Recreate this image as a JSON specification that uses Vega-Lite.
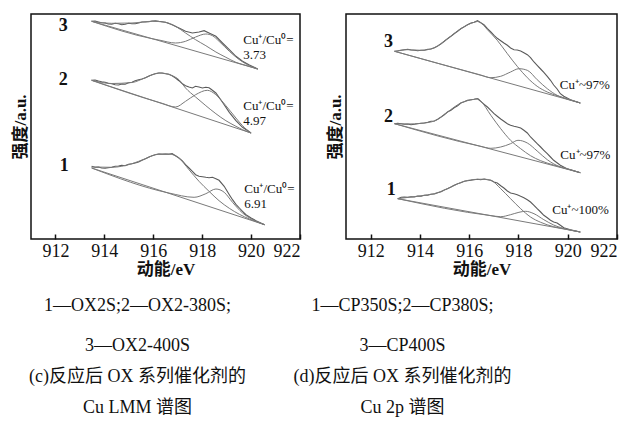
{
"$schema": "https://vega.github.io/schema/vega-lite/v6.json",
"background": "white",
"padding": {"left": 10, "top": 13, "right": 5, "bottom": 0},
"spacing": 46,
"bounds": "flush",
"config": {
  "font": "Liberation Serif, Noto Sans CJK SC",
  "view": {"stroke": "#111", "strokeWidth": 1.5},
  "axisX": {"grid": false, "domain": false, "values": [912, 914, 916, 918, 920, 922], "format": "d", "tickSize": -5, "tickColor": "#111", "tickWidth": 1.5, "labelFont": "Liberation Serif", "labelFontSize": 18, "labelColor": "#111", "labelPadding": 8, "labelAlign": {"condition": {"test": "datum.value == 922", "value": "right"}, "value": "center"}, "titleFont": "Liberation Serif, Noto Sans CJK SC", "titleFontSize": 17, "titleFontWeight": "bold", "titleColor": "#111", "titlePadding": 1},
  "axisY": {"grid": false, "domain": false, "ticks": false, "labels": false, "titleFont": "Liberation Serif, Noto Sans CJK SC", "titleFontSize": 17, "titleFontWeight": "bold", "titleColor": "#111", "titlePadding": 2},
  "title": {"orient": "bottom", "anchor": "middle", "frame": "group", "font": "Liberation Serif, Noto Sans CJK SC", "fontSize": 18, "fontWeight": "normal", "color": "#111", "lineHeight": 40, "offset": 20, "subtitleFont": "Liberation Serif, Noto Sans CJK SC", "subtitleFontSize": 18, "subtitleColor": "#111", "subtitleLineHeight": 31, "subtitlePadding": 13}
},
"datasets": {
"curves": [
{"p":"c","s":3,"k":"bg","x":913.48,"y":217.7},{"p":"c","s":3,"k":"bg","x":920.27,"y":170.0},
{"p":"c","s":3,"k":"raw","x":913.48,"y":217.7},{"p":"c","s":3,"k":"raw","x":913.62,"y":218.0},{"p":"c","s":3,"k":"raw","x":913.76,"y":217.0},{"p":"c","s":3,"k":"raw","x":913.89,"y":216.3},{"p":"c","s":3,"k":"raw","x":914.03,"y":216.0},{"p":"c","s":3,"k":"raw","x":914.16,"y":215.0},{"p":"c","s":3,"k":"raw","x":914.30,"y":214.7},{"p":"c","s":3,"k":"raw","x":914.44,"y":215.7},{"p":"c","s":3,"k":"raw","x":914.58,"y":215.3},{"p":"c","s":3,"k":"raw","x":914.71,"y":214.3},{"p":"c","s":3,"k":"raw","x":914.85,"y":214.7},{"p":"c","s":3,"k":"raw","x":914.99,"y":215.7},{"p":"c","s":3,"k":"raw","x":915.13,"y":215.3},{"p":"c","s":3,"k":"raw","x":915.26,"y":215.3},{"p":"c","s":3,"k":"raw","x":915.40,"y":216.0},{"p":"c","s":3,"k":"raw","x":915.54,"y":217.0},{"p":"c","s":3,"k":"raw","x":915.68,"y":217.0},{"p":"c","s":3,"k":"raw","x":915.82,"y":217.3},{"p":"c","s":3,"k":"raw","x":915.95,"y":218.0},{"p":"c","s":3,"k":"raw","x":916.09,"y":218.3},{"p":"c","s":3,"k":"raw","x":916.23,"y":217.7},{"p":"c","s":3,"k":"raw","x":916.50,"y":216.7},{"p":"c","s":3,"k":"raw","x":916.77,"y":214.3},{"p":"c","s":3,"k":"raw","x":917.05,"y":211.0},{"p":"c","s":3,"k":"raw","x":917.32,"y":207.7},{"p":"c","s":3,"k":"raw","x":917.60,"y":206.0},{"p":"c","s":3,"k":"raw","x":917.87,"y":207.0},{"p":"c","s":3,"k":"raw","x":918.08,"y":208.3},{"p":"c","s":3,"k":"raw","x":918.28,"y":206.0},{"p":"c","s":3,"k":"raw","x":918.56,"y":202.7},{"p":"c","s":3,"k":"raw","x":918.83,"y":196.0},{"p":"c","s":3,"k":"raw","x":919.11,"y":189.3},{"p":"c","s":3,"k":"raw","x":919.38,"y":182.7},{"p":"c","s":3,"k":"raw","x":919.65,"y":177.7},{"p":"c","s":3,"k":"raw","x":919.93,"y":174.0},{"p":"c","s":3,"k":"raw","x":920.27,"y":170.0},
{"p":"c","s":3,"k":"cu0","x":913.48,"y":217.7},{"p":"c","s":3,"k":"cu0","x":914.30,"y":215.7},{"p":"c","s":3,"k":"cu0","x":915.13,"y":216.0},{"p":"c","s":3,"k":"cu0","x":915.95,"y":217.7},{"p":"c","s":3,"k":"cu0","x":916.50,"y":216.7},{"p":"c","s":3,"k":"cu0","x":916.91,"y":212.7},{"p":"c","s":3,"k":"cu0","x":917.32,"y":206.0},{"p":"c","s":3,"k":"cu0","x":917.73,"y":199.3},{"p":"c","s":3,"k":"cu0","x":918.15,"y":193.3},{"p":"c","s":3,"k":"cu0","x":918.56,"y":187.0},{"p":"c","s":3,"k":"cu0","x":918.97,"y":181.7},{"p":"c","s":3,"k":"cu0","x":919.38,"y":176.7},{"p":"c","s":3,"k":"cu0","x":919.79,"y":173.6},{"p":"c","s":3,"k":"cu0","x":920.27,"y":170.0},
{"p":"c","s":3,"k":"cup","x":913.48,"y":217.7},{"p":"c","s":3,"k":"cup","x":915.95,"y":200.3},{"p":"c","s":3,"k":"cup","x":916.23,"y":199.0},{"p":"c","s":3,"k":"cup","x":916.91,"y":196.0},{"p":"c","s":3,"k":"cup","x":917.32,"y":197.7},{"p":"c","s":3,"k":"cup","x":917.73,"y":202.0},{"p":"c","s":3,"k":"cup","x":918.15,"y":205.0},{"p":"c","s":3,"k":"cup","x":918.42,"y":203.3},{"p":"c","s":3,"k":"cup","x":918.69,"y":197.7},{"p":"c","s":3,"k":"cup","x":919.11,"y":187.7},{"p":"c","s":3,"k":"cup","x":919.52,"y":179.3},{"p":"c","s":3,"k":"cup","x":919.93,"y":173.3},{"p":"c","s":3,"k":"cup","x":920.27,"y":170.0},
{"p":"c","s":2,"k":"bg","x":913.48,"y":158.7},{"p":"c","s":2,"k":"bg","x":920.00,"y":106.0},
{"p":"c","s":2,"k":"raw","x":913.48,"y":158.7},{"p":"c","s":2,"k":"raw","x":913.62,"y":159.0},{"p":"c","s":2,"k":"raw","x":913.76,"y":158.0},{"p":"c","s":2,"k":"raw","x":913.89,"y":157.3},{"p":"c","s":2,"k":"raw","x":914.03,"y":156.7},{"p":"c","s":2,"k":"raw","x":914.16,"y":155.7},{"p":"c","s":2,"k":"raw","x":914.30,"y":155.3},{"p":"c","s":2,"k":"raw","x":914.44,"y":154.3},{"p":"c","s":2,"k":"raw","x":914.58,"y":154.0},{"p":"c","s":2,"k":"raw","x":914.71,"y":155.0},{"p":"c","s":2,"k":"raw","x":914.85,"y":154.7},{"p":"c","s":2,"k":"raw","x":914.99,"y":156.3},{"p":"c","s":2,"k":"raw","x":915.13,"y":156.7},{"p":"c","s":2,"k":"raw","x":915.26,"y":158.3},{"p":"c","s":2,"k":"raw","x":915.40,"y":159.3},{"p":"c","s":2,"k":"raw","x":915.54,"y":160.0},{"p":"c","s":2,"k":"raw","x":915.68,"y":161.3},{"p":"c","s":2,"k":"raw","x":915.82,"y":163.0},{"p":"c","s":2,"k":"raw","x":915.95,"y":164.3},{"p":"c","s":2,"k":"raw","x":916.09,"y":165.3},{"p":"c","s":2,"k":"raw","x":916.23,"y":166.0},{"p":"c","s":2,"k":"raw","x":916.36,"y":166.0},{"p":"c","s":2,"k":"raw","x":916.50,"y":165.3},{"p":"c","s":2,"k":"raw","x":916.64,"y":164.7},{"p":"c","s":2,"k":"raw","x":916.77,"y":163.3},{"p":"c","s":2,"k":"raw","x":916.91,"y":161.0},{"p":"c","s":2,"k":"raw","x":917.05,"y":158.3},{"p":"c","s":2,"k":"raw","x":917.19,"y":155.3},{"p":"c","s":2,"k":"raw","x":917.32,"y":153.3},{"p":"c","s":2,"k":"raw","x":917.46,"y":152.0},{"p":"c","s":2,"k":"raw","x":917.60,"y":151.0},{"p":"c","s":2,"k":"raw","x":917.73,"y":152.7},{"p":"c","s":2,"k":"raw","x":917.87,"y":152.0},{"p":"c","s":2,"k":"raw","x":918.01,"y":151.0},{"p":"c","s":2,"k":"raw","x":918.15,"y":151.7},{"p":"c","s":2,"k":"raw","x":918.28,"y":151.3},{"p":"c","s":2,"k":"raw","x":918.35,"y":150.0},{"p":"c","s":2,"k":"raw","x":918.56,"y":146.0},{"p":"c","s":2,"k":"raw","x":918.83,"y":136.7},{"p":"c","s":2,"k":"raw","x":919.11,"y":126.7},{"p":"c","s":2,"k":"raw","x":919.38,"y":118.3},{"p":"c","s":2,"k":"raw","x":919.65,"y":111.7},{"p":"c","s":2,"k":"raw","x":920.00,"y":106.0},
{"p":"c","s":2,"k":"cu0","x":913.48,"y":158.7},{"p":"c","s":2,"k":"cu0","x":914.30,"y":155.5},{"p":"c","s":2,"k":"cu0","x":915.13,"y":156.5},{"p":"c","s":2,"k":"cu0","x":915.68,"y":161.3},{"p":"c","s":2,"k":"cu0","x":916.23,"y":166.0},{"p":"c","s":2,"k":"cu0","x":916.50,"y":165.5},{"p":"c","s":2,"k":"cu0","x":916.77,"y":163.3},{"p":"c","s":2,"k":"cu0","x":917.05,"y":159.3},{"p":"c","s":2,"k":"cu0","x":917.32,"y":151.0},{"p":"c","s":2,"k":"cu0","x":917.73,"y":142.0},{"p":"c","s":2,"k":"cu0","x":918.15,"y":133.3},{"p":"c","s":2,"k":"cu0","x":918.56,"y":125.3},{"p":"c","s":2,"k":"cu0","x":918.97,"y":118.3},{"p":"c","s":2,"k":"cu0","x":919.38,"y":112.7},{"p":"c","s":2,"k":"cu0","x":919.65,"y":109.3},{"p":"c","s":2,"k":"cu0","x":920.00,"y":106.0},
{"p":"c","s":2,"k":"cup","x":913.48,"y":158.7},{"p":"c","s":2,"k":"cup","x":916.36,"y":135.7},{"p":"c","s":2,"k":"cup","x":916.91,"y":132.0},{"p":"c","s":2,"k":"cup","x":917.32,"y":137.7},{"p":"c","s":2,"k":"cup","x":917.73,"y":144.3},{"p":"c","s":2,"k":"cup","x":918.21,"y":148.7},{"p":"c","s":2,"k":"cup","x":918.56,"y":144.3},{"p":"c","s":2,"k":"cup","x":918.97,"y":133.3},{"p":"c","s":2,"k":"cup","x":919.38,"y":121.0},{"p":"c","s":2,"k":"cup","x":919.65,"y":113.3},{"p":"c","s":2,"k":"cup","x":920.00,"y":106.0},
{"p":"c","s":1,"k":"bg","x":913.48,"y":71.0},{"p":"c","s":1,"k":"bg","x":920.55,"y":14.3},
{"p":"c","s":1,"k":"raw","x":913.48,"y":72.7},{"p":"c","s":1,"k":"raw","x":913.62,"y":71.7},{"p":"c","s":1,"k":"raw","x":913.76,"y":72.0},{"p":"c","s":1,"k":"raw","x":913.89,"y":71.0},{"p":"c","s":1,"k":"raw","x":914.03,"y":70.7},{"p":"c","s":1,"k":"raw","x":914.16,"y":71.3},{"p":"c","s":1,"k":"raw","x":914.30,"y":71.7},{"p":"c","s":1,"k":"raw","x":914.44,"y":72.7},{"p":"c","s":1,"k":"raw","x":914.58,"y":73.0},{"p":"c","s":1,"k":"raw","x":914.71,"y":73.7},{"p":"c","s":1,"k":"raw","x":914.85,"y":73.3},{"p":"c","s":1,"k":"raw","x":914.99,"y":74.7},{"p":"c","s":1,"k":"raw","x":915.13,"y":75.3},{"p":"c","s":1,"k":"raw","x":915.26,"y":76.0},{"p":"c","s":1,"k":"raw","x":915.40,"y":77.0},{"p":"c","s":1,"k":"raw","x":915.54,"y":78.7},{"p":"c","s":1,"k":"raw","x":915.68,"y":80.3},{"p":"c","s":1,"k":"raw","x":915.82,"y":82.0},{"p":"c","s":1,"k":"raw","x":915.95,"y":83.3},{"p":"c","s":1,"k":"raw","x":916.09,"y":84.3},{"p":"c","s":1,"k":"raw","x":916.23,"y":85.0},{"p":"c","s":1,"k":"raw","x":916.36,"y":84.7},{"p":"c","s":1,"k":"raw","x":916.50,"y":85.0},{"p":"c","s":1,"k":"raw","x":916.64,"y":84.7},{"p":"c","s":1,"k":"raw","x":916.77,"y":85.3},{"p":"c","s":1,"k":"raw","x":916.91,"y":83.3},{"p":"c","s":1,"k":"raw","x":917.05,"y":81.0},{"p":"c","s":1,"k":"raw","x":917.19,"y":78.0},{"p":"c","s":1,"k":"raw","x":917.32,"y":74.3},{"p":"c","s":1,"k":"raw","x":917.46,"y":71.0},{"p":"c","s":1,"k":"raw","x":917.60,"y":67.7},{"p":"c","s":1,"k":"raw","x":917.73,"y":64.3},{"p":"c","s":1,"k":"raw","x":917.87,"y":62.7},{"p":"c","s":1,"k":"raw","x":918.01,"y":62.3},{"p":"c","s":1,"k":"raw","x":918.15,"y":61.7},{"p":"c","s":1,"k":"raw","x":918.28,"y":61.3},{"p":"c","s":1,"k":"raw","x":918.42,"y":61.7},{"p":"c","s":1,"k":"raw","x":918.56,"y":60.3},{"p":"c","s":1,"k":"raw","x":918.69,"y":58.7},{"p":"c","s":1,"k":"raw","x":918.90,"y":52.7},{"p":"c","s":1,"k":"raw","x":919.11,"y":44.3},{"p":"c","s":1,"k":"raw","x":919.24,"y":39.3},{"p":"c","s":1,"k":"raw","x":919.38,"y":34.7},{"p":"c","s":1,"k":"raw","x":919.52,"y":31.0},{"p":"c","s":1,"k":"raw","x":919.65,"y":27.7},{"p":"c","s":1,"k":"raw","x":919.79,"y":24.3},{"p":"c","s":1,"k":"raw","x":920.00,"y":21.0},{"p":"c","s":1,"k":"raw","x":920.20,"y":18.3},{"p":"c","s":1,"k":"raw","x":920.55,"y":14.3},
{"p":"c","s":1,"k":"cu0","x":913.48,"y":72.0},{"p":"c","s":1,"k":"cu0","x":914.30,"y":71.7},{"p":"c","s":1,"k":"cu0","x":915.13,"y":75.3},{"p":"c","s":1,"k":"cu0","x":915.68,"y":80.3},{"p":"c","s":1,"k":"cu0","x":916.23,"y":85.0},{"p":"c","s":1,"k":"cu0","x":916.64,"y":85.0},{"p":"c","s":1,"k":"cu0","x":917.05,"y":81.0},{"p":"c","s":1,"k":"cu0","x":917.46,"y":69.3},{"p":"c","s":1,"k":"cu0","x":917.87,"y":57.7},{"p":"c","s":1,"k":"cu0","x":918.28,"y":47.7},{"p":"c","s":1,"k":"cu0","x":918.69,"y":38.3},{"p":"c","s":1,"k":"cu0","x":919.11,"y":30.7},{"p":"c","s":1,"k":"cu0","x":919.52,"y":24.7},{"p":"c","s":1,"k":"cu0","x":919.93,"y":20.0},{"p":"c","s":1,"k":"cu0","x":920.55,"y":14.3},
{"p":"c","s":1,"k":"cup","x":913.48,"y":71.0},{"p":"c","s":1,"k":"cup","x":916.64,"y":46.0},{"p":"c","s":1,"k":"cup","x":917.67,"y":41.7},{"p":"c","s":1,"k":"cup","x":918.15,"y":45.3},{"p":"c","s":1,"k":"cup","x":918.56,"y":50.0},{"p":"c","s":1,"k":"cup","x":918.90,"y":46.7},{"p":"c","s":1,"k":"cup","x":919.24,"y":36.7},{"p":"c","s":1,"k":"cup","x":919.65,"y":26.0},{"p":"c","s":1,"k":"cup","x":920.07,"y":19.3},{"p":"c","s":1,"k":"cup","x":920.55,"y":14.3},
{"p":"d","s":3,"k":"bg","x":912.97,"y":187.7},{"p":"d","s":3,"k":"bg","x":920.51,"y":136.0},
{"p":"d","s":3,"k":"raw","x":912.97,"y":187.7},{"p":"d","s":3,"k":"raw","x":913.10,"y":188.0},{"p":"d","s":3,"k":"raw","x":913.24,"y":188.7},{"p":"d","s":3,"k":"raw","x":913.37,"y":189.3},{"p":"d","s":3,"k":"raw","x":913.51,"y":189.7},{"p":"d","s":3,"k":"raw","x":913.64,"y":189.0},{"p":"d","s":3,"k":"raw","x":913.78,"y":188.7},{"p":"d","s":3,"k":"raw","x":913.91,"y":188.3},{"p":"d","s":3,"k":"raw","x":914.05,"y":188.7},{"p":"d","s":3,"k":"raw","x":914.18,"y":188.7},{"p":"d","s":3,"k":"raw","x":914.32,"y":189.7},{"p":"d","s":3,"k":"raw","x":914.45,"y":190.0},{"p":"d","s":3,"k":"raw","x":914.59,"y":191.3},{"p":"d","s":3,"k":"raw","x":914.72,"y":193.0},{"p":"d","s":3,"k":"raw","x":914.86,"y":195.3},{"p":"d","s":3,"k":"raw","x":914.99,"y":197.7},{"p":"d","s":3,"k":"raw","x":915.12,"y":200.3},{"p":"d","s":3,"k":"raw","x":915.26,"y":202.7},{"p":"d","s":3,"k":"raw","x":915.39,"y":205.3},{"p":"d","s":3,"k":"raw","x":915.53,"y":207.7},{"p":"d","s":3,"k":"raw","x":915.66,"y":210.3},{"p":"d","s":3,"k":"raw","x":915.80,"y":212.3},{"p":"d","s":3,"k":"raw","x":915.93,"y":214.3},{"p":"d","s":3,"k":"raw","x":916.07,"y":216.0},{"p":"d","s":3,"k":"raw","x":916.20,"y":216.7},{"p":"d","s":3,"k":"raw","x":916.34,"y":218.3},{"p":"d","s":3,"k":"raw","x":916.47,"y":216.3},{"p":"d","s":3,"k":"raw","x":916.61,"y":214.0},{"p":"d","s":3,"k":"raw","x":916.74,"y":210.3},{"p":"d","s":3,"k":"raw","x":916.88,"y":207.0},{"p":"d","s":3,"k":"raw","x":917.01,"y":203.7},{"p":"d","s":3,"k":"raw","x":917.14,"y":200.7},{"p":"d","s":3,"k":"raw","x":917.28,"y":198.3},{"p":"d","s":3,"k":"raw","x":917.41,"y":196.0},{"p":"d","s":3,"k":"raw","x":917.55,"y":193.7},{"p":"d","s":3,"k":"raw","x":917.68,"y":191.0},{"p":"d","s":3,"k":"raw","x":917.82,"y":189.3},{"p":"d","s":3,"k":"raw","x":917.95,"y":189.0},{"p":"d","s":3,"k":"raw","x":918.09,"y":188.0},{"p":"d","s":3,"k":"raw","x":918.22,"y":186.3},{"p":"d","s":3,"k":"raw","x":918.36,"y":184.3},{"p":"d","s":3,"k":"raw","x":918.49,"y":181.3},{"p":"d","s":3,"k":"raw","x":918.63,"y":177.0},{"p":"d","s":3,"k":"raw","x":918.76,"y":173.7},{"p":"d","s":3,"k":"raw","x":918.90,"y":170.0},{"p":"d","s":3,"k":"raw","x":919.03,"y":166.7},{"p":"d","s":3,"k":"raw","x":919.17,"y":162.7},{"p":"d","s":3,"k":"raw","x":919.30,"y":158.7},{"p":"d","s":3,"k":"raw","x":919.43,"y":154.0},{"p":"d","s":3,"k":"raw","x":919.57,"y":150.0},{"p":"d","s":3,"k":"raw","x":919.70,"y":145.3},{"p":"d","s":3,"k":"raw","x":919.84,"y":142.7},{"p":"d","s":3,"k":"raw","x":920.11,"y":139.3},{"p":"d","s":3,"k":"raw","x":920.51,"y":136.0},
{"p":"d","s":3,"k":"cu0","x":912.97,"y":187.7},{"p":"d","s":3,"k":"cu0","x":913.51,"y":189.3},{"p":"d","s":3,"k":"cu0","x":914.05,"y":188.7},{"p":"d","s":3,"k":"cu0","x":914.59,"y":191.3},{"p":"d","s":3,"k":"cu0","x":915.12,"y":200.3},{"p":"d","s":3,"k":"cu0","x":915.66,"y":210.3},{"p":"d","s":3,"k":"cu0","x":916.20,"y":216.7},{"p":"d","s":3,"k":"cu0","x":916.34,"y":217.5},{"p":"d","s":3,"k":"cu0","x":916.47,"y":216.3},{"p":"d","s":3,"k":"cu0","x":916.74,"y":209.3},{"p":"d","s":3,"k":"cu0","x":917.14,"y":198.7},{"p":"d","s":3,"k":"cu0","x":917.55,"y":185.3},{"p":"d","s":3,"k":"cu0","x":917.95,"y":172.7},{"p":"d","s":3,"k":"cu0","x":918.36,"y":161.3},{"p":"d","s":3,"k":"cu0","x":918.76,"y":152.7},{"p":"d","s":3,"k":"cu0","x":919.17,"y":147.0},{"p":"d","s":3,"k":"cu0","x":919.57,"y":143.3},{"p":"d","s":3,"k":"cu0","x":919.97,"y":140.0},{"p":"d","s":3,"k":"cu0","x":920.51,"y":136.0},
{"p":"d","s":3,"k":"cup","x":912.97,"y":187.7},{"p":"d","s":3,"k":"cup","x":916.47,"y":164.0},{"p":"d","s":3,"k":"cup","x":916.88,"y":161.3},{"p":"d","s":3,"k":"cup","x":917.28,"y":162.7},{"p":"d","s":3,"k":"cup","x":917.68,"y":167.0},{"p":"d","s":3,"k":"cup","x":918.02,"y":170.3},{"p":"d","s":3,"k":"cup","x":918.36,"y":168.7},{"p":"d","s":3,"k":"cup","x":918.76,"y":159.3},{"p":"d","s":3,"k":"cup","x":919.17,"y":150.3},{"p":"d","s":3,"k":"cup","x":919.57,"y":143.7},{"p":"d","s":3,"k":"cup","x":919.97,"y":140.2},{"p":"d","s":3,"k":"cup","x":920.51,"y":136.0},
{"p":"d","s":2,"k":"bg","x":912.97,"y":115.3},{"p":"d","s":2,"k":"bg","x":920.51,"y":66.3},
{"p":"d","s":2,"k":"raw","x":912.97,"y":115.3},{"p":"d","s":2,"k":"raw","x":913.10,"y":115.7},{"p":"d","s":2,"k":"raw","x":913.24,"y":115.3},{"p":"d","s":2,"k":"raw","x":913.37,"y":114.7},{"p":"d","s":2,"k":"raw","x":913.51,"y":115.0},{"p":"d","s":2,"k":"raw","x":913.64,"y":114.3},{"p":"d","s":2,"k":"raw","x":913.78,"y":114.7},{"p":"d","s":2,"k":"raw","x":913.91,"y":115.3},{"p":"d","s":2,"k":"raw","x":914.05,"y":115.7},{"p":"d","s":2,"k":"raw","x":914.18,"y":116.0},{"p":"d","s":2,"k":"raw","x":914.32,"y":116.7},{"p":"d","s":2,"k":"raw","x":914.45,"y":117.7},{"p":"d","s":2,"k":"raw","x":914.59,"y":118.0},{"p":"d","s":2,"k":"raw","x":914.72,"y":119.7},{"p":"d","s":2,"k":"raw","x":914.86,"y":122.0},{"p":"d","s":2,"k":"raw","x":914.99,"y":124.3},{"p":"d","s":2,"k":"raw","x":915.12,"y":127.0},{"p":"d","s":2,"k":"raw","x":915.26,"y":128.7},{"p":"d","s":2,"k":"raw","x":915.39,"y":131.3},{"p":"d","s":2,"k":"raw","x":915.53,"y":133.3},{"p":"d","s":2,"k":"raw","x":915.66,"y":136.0},{"p":"d","s":2,"k":"raw","x":915.80,"y":137.3},{"p":"d","s":2,"k":"raw","x":915.93,"y":138.7},{"p":"d","s":2,"k":"raw","x":916.07,"y":139.3},{"p":"d","s":2,"k":"raw","x":916.20,"y":139.7},{"p":"d","s":2,"k":"raw","x":916.34,"y":140.3},{"p":"d","s":2,"k":"raw","x":916.47,"y":137.7},{"p":"d","s":2,"k":"raw","x":916.61,"y":134.7},{"p":"d","s":2,"k":"raw","x":916.74,"y":132.0},{"p":"d","s":2,"k":"raw","x":916.88,"y":128.7},{"p":"d","s":2,"k":"raw","x":917.01,"y":125.3},{"p":"d","s":2,"k":"raw","x":917.14,"y":122.7},{"p":"d","s":2,"k":"raw","x":917.28,"y":120.0},{"p":"d","s":2,"k":"raw","x":917.41,"y":117.7},{"p":"d","s":2,"k":"raw","x":917.55,"y":115.3},{"p":"d","s":2,"k":"raw","x":917.68,"y":113.7},{"p":"d","s":2,"k":"raw","x":917.82,"y":112.7},{"p":"d","s":2,"k":"raw","x":917.95,"y":112.0},{"p":"d","s":2,"k":"raw","x":918.09,"y":111.0},{"p":"d","s":2,"k":"raw","x":918.22,"y":108.7},{"p":"d","s":2,"k":"raw","x":918.36,"y":106.0},{"p":"d","s":2,"k":"raw","x":918.49,"y":102.0},{"p":"d","s":2,"k":"raw","x":918.63,"y":98.7},{"p":"d","s":2,"k":"raw","x":918.76,"y":95.3},{"p":"d","s":2,"k":"raw","x":918.90,"y":92.0},{"p":"d","s":2,"k":"raw","x":919.03,"y":88.7},{"p":"d","s":2,"k":"raw","x":919.17,"y":85.3},{"p":"d","s":2,"k":"raw","x":919.30,"y":82.0},{"p":"d","s":2,"k":"raw","x":919.43,"y":78.7},{"p":"d","s":2,"k":"raw","x":919.70,"y":73.7},{"p":"d","s":2,"k":"raw","x":919.97,"y":70.3},{"p":"d","s":2,"k":"raw","x":920.51,"y":66.3},
{"p":"d","s":2,"k":"cu0","x":912.97,"y":115.3},{"p":"d","s":2,"k":"cu0","x":913.51,"y":115.0},{"p":"d","s":2,"k":"cu0","x":914.05,"y":115.7},{"p":"d","s":2,"k":"cu0","x":914.59,"y":118.0},{"p":"d","s":2,"k":"cu0","x":915.12,"y":127.0},{"p":"d","s":2,"k":"cu0","x":915.66,"y":136.0},{"p":"d","s":2,"k":"cu0","x":916.20,"y":139.7},{"p":"d","s":2,"k":"cu0","x":916.34,"y":140.3},{"p":"d","s":2,"k":"cu0","x":916.47,"y":138.0},{"p":"d","s":2,"k":"cu0","x":916.88,"y":123.7},{"p":"d","s":2,"k":"cu0","x":917.28,"y":110.3},{"p":"d","s":2,"k":"cu0","x":917.68,"y":98.7},{"p":"d","s":2,"k":"cu0","x":918.09,"y":90.3},{"p":"d","s":2,"k":"cu0","x":918.49,"y":83.3},{"p":"d","s":2,"k":"cu0","x":918.90,"y":78.3},{"p":"d","s":2,"k":"cu0","x":919.43,"y":74.0},{"p":"d","s":2,"k":"cu0","x":919.97,"y":70.3},{"p":"d","s":2,"k":"cu0","x":920.51,"y":66.3},
{"p":"d","s":2,"k":"cup","x":912.97,"y":115.3},{"p":"d","s":2,"k":"cup","x":916.47,"y":92.7},{"p":"d","s":2,"k":"cup","x":916.88,"y":90.7},{"p":"d","s":2,"k":"cup","x":917.28,"y":92.0},{"p":"d","s":2,"k":"cup","x":917.68,"y":95.3},{"p":"d","s":2,"k":"cup","x":917.98,"y":98.7},{"p":"d","s":2,"k":"cup","x":918.36,"y":96.0},{"p":"d","s":2,"k":"cup","x":918.76,"y":88.0},{"p":"d","s":2,"k":"cup","x":919.17,"y":79.3},{"p":"d","s":2,"k":"cup","x":919.70,"y":72.0},{"p":"d","s":2,"k":"cup","x":920.11,"y":69.3},{"p":"d","s":2,"k":"cup","x":920.51,"y":66.3},
{"p":"d","s":1,"k":"bg","x":913.10,"y":40.3},{"p":"d","s":1,"k":"bg","x":920.51,"y":7.0},
{"p":"d","s":1,"k":"raw","x":913.10,"y":40.3},{"p":"d","s":1,"k":"raw","x":913.24,"y":41.7},{"p":"d","s":1,"k":"raw","x":913.37,"y":42.0},{"p":"d","s":1,"k":"raw","x":913.51,"y":41.7},{"p":"d","s":1,"k":"raw","x":913.64,"y":42.3},{"p":"d","s":1,"k":"raw","x":913.78,"y":42.0},{"p":"d","s":1,"k":"raw","x":913.91,"y":43.0},{"p":"d","s":1,"k":"raw","x":914.05,"y":42.7},{"p":"d","s":1,"k":"raw","x":914.18,"y":43.7},{"p":"d","s":1,"k":"raw","x":914.32,"y":43.7},{"p":"d","s":1,"k":"raw","x":914.45,"y":44.7},{"p":"d","s":1,"k":"raw","x":914.59,"y":45.0},{"p":"d","s":1,"k":"raw","x":914.72,"y":46.3},{"p":"d","s":1,"k":"raw","x":914.86,"y":47.3},{"p":"d","s":1,"k":"raw","x":914.99,"y":49.0},{"p":"d","s":1,"k":"raw","x":915.12,"y":50.3},{"p":"d","s":1,"k":"raw","x":915.26,"y":52.0},{"p":"d","s":1,"k":"raw","x":915.39,"y":53.7},{"p":"d","s":1,"k":"raw","x":915.53,"y":55.3},{"p":"d","s":1,"k":"raw","x":915.66,"y":56.3},{"p":"d","s":1,"k":"raw","x":915.80,"y":57.7},{"p":"d","s":1,"k":"raw","x":915.93,"y":58.3},{"p":"d","s":1,"k":"raw","x":916.07,"y":58.7},{"p":"d","s":1,"k":"raw","x":916.20,"y":59.3},{"p":"d","s":1,"k":"raw","x":916.34,"y":59.7},{"p":"d","s":1,"k":"raw","x":916.47,"y":59.3},{"p":"d","s":1,"k":"raw","x":916.61,"y":60.0},{"p":"d","s":1,"k":"raw","x":916.74,"y":59.3},{"p":"d","s":1,"k":"raw","x":916.88,"y":58.7},{"p":"d","s":1,"k":"raw","x":917.01,"y":57.0},{"p":"d","s":1,"k":"raw","x":917.14,"y":56.0},{"p":"d","s":1,"k":"raw","x":917.28,"y":53.3},{"p":"d","s":1,"k":"raw","x":917.41,"y":51.0},{"p":"d","s":1,"k":"raw","x":917.55,"y":48.0},{"p":"d","s":1,"k":"raw","x":917.68,"y":46.0},{"p":"d","s":1,"k":"raw","x":917.82,"y":45.3},{"p":"d","s":1,"k":"raw","x":917.95,"y":44.3},{"p":"d","s":1,"k":"raw","x":918.09,"y":42.7},{"p":"d","s":1,"k":"raw","x":918.22,"y":41.3},{"p":"d","s":1,"k":"raw","x":918.36,"y":39.3},{"p":"d","s":1,"k":"raw","x":918.49,"y":37.0},{"p":"d","s":1,"k":"raw","x":918.63,"y":33.7},{"p":"d","s":1,"k":"raw","x":918.76,"y":30.3},{"p":"d","s":1,"k":"raw","x":918.90,"y":27.0},{"p":"d","s":1,"k":"raw","x":919.03,"y":23.7},{"p":"d","s":1,"k":"raw","x":919.17,"y":21.3},{"p":"d","s":1,"k":"raw","x":919.30,"y":18.7},{"p":"d","s":1,"k":"raw","x":919.43,"y":17.0},{"p":"d","s":1,"k":"raw","x":919.57,"y":16.0},{"p":"d","s":1,"k":"raw","x":919.70,"y":13.7},{"p":"d","s":1,"k":"raw","x":919.84,"y":11.3},{"p":"d","s":1,"k":"raw","x":920.11,"y":9.3},{"p":"d","s":1,"k":"raw","x":920.51,"y":7.0},
{"p":"d","s":1,"k":"cu0","x":913.10,"y":40.3},{"p":"d","s":1,"k":"cu0","x":913.64,"y":42.0},{"p":"d","s":1,"k":"cu0","x":914.18,"y":43.7},{"p":"d","s":1,"k":"cu0","x":914.72,"y":46.3},{"p":"d","s":1,"k":"cu0","x":915.26,"y":52.0},{"p":"d","s":1,"k":"cu0","x":915.80,"y":57.7},{"p":"d","s":1,"k":"cu0","x":916.34,"y":59.7},{"p":"d","s":1,"k":"cu0","x":916.61,"y":59.8},{"p":"d","s":1,"k":"cu0","x":916.88,"y":58.7},{"p":"d","s":1,"k":"cu0","x":917.28,"y":50.3},{"p":"d","s":1,"k":"cu0","x":917.68,"y":40.3},{"p":"d","s":1,"k":"cu0","x":918.09,"y":30.3},{"p":"d","s":1,"k":"cu0","x":918.49,"y":22.0},{"p":"d","s":1,"k":"cu0","x":918.90,"y":16.7},{"p":"d","s":1,"k":"cu0","x":919.43,"y":12.3},{"p":"d","s":1,"k":"cu0","x":919.97,"y":9.7},{"p":"d","s":1,"k":"cu0","x":920.51,"y":7.0},
{"p":"d","s":1,"k":"cup","x":913.10,"y":40.3},{"p":"d","s":1,"k":"cup","x":916.88,"y":23.4},{"p":"d","s":1,"k":"cup","x":917.28,"y":22.3},{"p":"d","s":1,"k":"cup","x":917.68,"y":24.3},{"p":"d","s":1,"k":"cup","x":918.02,"y":26.7},{"p":"d","s":1,"k":"cup","x":918.29,"y":27.7},{"p":"d","s":1,"k":"cup","x":918.63,"y":25.3},{"p":"d","s":1,"k":"cup","x":919.03,"y":19.3},{"p":"d","s":1,"k":"cup","x":919.43,"y":14.0},{"p":"d","s":1,"k":"cup","x":919.97,"y":9.7},{"p":"d","s":1,"k":"cup","x":920.51,"y":7.0}
],
"labels": [
{"p":"c","k":"n","t":"3","x":912.32,"y":213.3},{"p":"c","k":"n","t":"2","x":912.32,"y":158.7},{"p":"c","k":"n","t":"1","x":912.36,"y":72.7},
{"p":"c","k":"a","t":"Cu⁺/Cu⁰=","x":919.68,"y":199.0},{"p":"c","k":"a","t":"3.73","x":919.68,"y":184.0},
{"p":"c","k":"a","t":"Cu⁺/Cu⁰=","x":919.68,"y":133.0},{"p":"c","k":"a","t":"4.97","x":919.68,"y":118.5},
{"p":"c","k":"a","t":"Cu⁺/Cu⁰=","x":919.72,"y":49.6},{"p":"c","k":"a","t":"6.91","x":919.72,"y":35.0},
{"p":"d","k":"n","t":"3","x":912.73,"y":197.0},{"p":"d","k":"n","t":"2","x":912.73,"y":122.0},{"p":"d","k":"n","t":"1","x":912.84,"y":48.7},
{"p":"d","k":"a","t":"Cu⁺~97%","x":919.68,"y":153.7},{"p":"d","k":"a","t":"Cu⁺~97%","x":919.70,"y":83.7},{"p":"d","k":"a","t":"Cu⁺~100%","x":919.37,"y":28.7}
]
},
"hconcat": [
{
  "width": 269, "height": 225,
  "title": {"text": ["1—OX2S;2—OX2-380S;", "3—OX2-400S"], "subtitle": ["(c)反应后 OX 系列催化剂的", "Cu LMM 谱图"], "dx": -28},
  "encoding": {
    "x": {"field": "x", "type": "quantitative", "scale": {"domain": [911, 922], "nice": false, "zero": false}, "axis": {"title": "动能/eV"}},
    "y": {"field": "y", "type": "quantitative", "scale": {"domain": [0, 225], "nice": false}, "axis": {"title": "强度/a.u."}}
  },
  "layer": [
    {"data": {"name": "curves"}, "transform": [{"filter": "datum.p == 'c' && datum.k == 'raw'"}], "mark": {"type": "line", "stroke": "#5a5a5a", "strokeWidth": 1.1}, "encoding": {"detail": {"field": "s", "type": "nominal"}}},
    {"data": {"name": "curves"}, "transform": [{"filter": "datum.p == 'c' && datum.k != 'raw'"}], "mark": {"type": "line", "stroke": "#7a7a7a", "strokeWidth": 1, "interpolate": "monotone"}, "encoding": {"detail": [{"field": "s", "type": "nominal"}, {"field": "k", "type": "nominal"}]}},
    {"data": {"name": "labels"}, "transform": [{"filter": "datum.p == 'c' && datum.k == 'n'"}], "mark": {"type": "text", "font": "Liberation Serif", "fontSize": 18, "fontWeight": "bold", "align": "center", "baseline": "middle", "color": "#111"}, "encoding": {"text": {"field": "t"}}},
    {"data": {"name": "labels"}, "transform": [{"filter": "datum.p == 'c' && datum.k == 'a'"}], "mark": {"type": "text", "font": "Liberation Serif", "fontSize": 13, "align": "left", "baseline": "middle", "color": "#111"}, "encoding": {"text": {"field": "t"}}}
  ]
},
{
  "width": 271, "height": 225,
  "title": {"text": ["1—CP350S;2—CP380S;", "3—CP400S"], "subtitle": ["(d)反应后 OX 系列催化剂的", "Cu 2p 谱图"], "dx": -79},
  "encoding": {
    "x": {"field": "x", "type": "quantitative", "scale": {"domain": [911, 922], "nice": false, "zero": false}, "axis": {"title": "动能/eV"}},
    "y": {"field": "y", "type": "quantitative", "scale": {"domain": [0, 225], "nice": false}, "axis": {"title": "强度/a.u."}}
  },
  "layer": [
    {"data": {"name": "curves"}, "transform": [{"filter": "datum.p == 'd' && datum.k == 'raw'"}], "mark": {"type": "line", "stroke": "#5a5a5a", "strokeWidth": 1.1}, "encoding": {"detail": {"field": "s", "type": "nominal"}}},
    {"data": {"name": "curves"}, "transform": [{"filter": "datum.p == 'd' && datum.k != 'raw'"}], "mark": {"type": "line", "stroke": "#7a7a7a", "strokeWidth": 1, "interpolate": "monotone"}, "encoding": {"detail": [{"field": "s", "type": "nominal"}, {"field": "k", "type": "nominal"}]}},
    {"data": {"name": "labels"}, "transform": [{"filter": "datum.p == 'd' && datum.k == 'n'"}], "mark": {"type": "text", "font": "Liberation Serif", "fontSize": 18, "fontWeight": "bold", "align": "center", "baseline": "middle", "color": "#111"}, "encoding": {"text": {"field": "t"}}},
    {"data": {"name": "labels"}, "transform": [{"filter": "datum.p == 'd' && datum.k == 'a'"}], "mark": {"type": "text", "font": "Liberation Serif", "fontSize": 13, "align": "left", "baseline": "middle", "color": "#111"}, "encoding": {"text": {"field": "t"}}}
  ]
}
]
}
